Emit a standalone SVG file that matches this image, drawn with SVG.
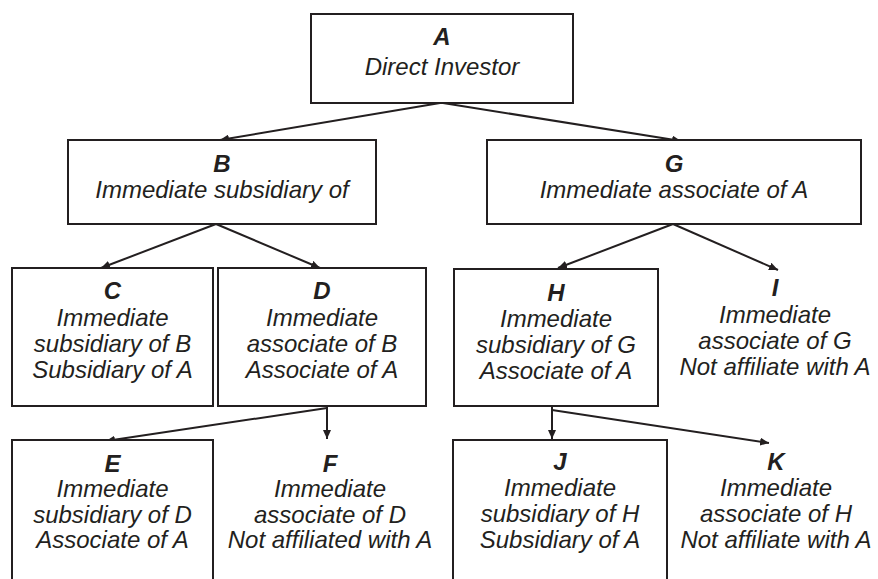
<svg xmlns="http://www.w3.org/2000/svg" width="878" height="579" viewBox="0 0 878 579">
<defs>
<marker id="arr" markerUnits="userSpaceOnUse" markerWidth="10" markerHeight="8" refX="9" refY="4" orient="auto">
<path d="M0,0 L9,4 L0,8 z" fill="#231f20"/>
</marker>
<style>
.box{fill:#fff;stroke:#231f20;stroke-width:2}
.t{font-family:"Liberation Sans",Arial,sans-serif;font-size:24px;font-style:italic;fill:#231f20;text-anchor:middle}
.h{font-weight:bold}
.c{fill:none;stroke:#231f20;stroke-width:2}
</style>
</defs>
<rect width="878" height="579" fill="#fff"/>
<g id="connectors">
<line class="c" x1="440" y1="103" x2="220" y2="140" marker-end="url(#arr)"/>
<line class="c" x1="443" y1="103" x2="681" y2="141" marker-end="url(#arr)"/>
<line class="c" x1="216" y1="224" x2="101" y2="268" marker-end="url(#arr)"/>
<line class="c" x1="216" y1="224" x2="320" y2="268" marker-end="url(#arr)"/>
<line class="c" x1="673" y1="224" x2="558" y2="268" marker-end="url(#arr)"/>
<line class="c" x1="673" y1="224" x2="778" y2="270" marker-end="url(#arr)"/>
<line class="c" x1="327" y1="406" x2="327" y2="439" marker-end="url(#arr)"/>
<line class="c" x1="327" y1="408" x2="106" y2="441" marker-end="url(#arr)"/>
<line class="c" x1="552" y1="406" x2="552" y2="439" marker-end="url(#arr)"/>
<line class="c" x1="552" y1="410" x2="769" y2="443" marker-end="url(#arr)"/>
</g>
<g id="A">
<rect class="box" x="311" y="14" width="262" height="89"/>
<text class="t h" x="442" y="45">A</text>
<text class="t" x="442" y="75">Direct Investor</text>
</g>
<g id="B">
<rect class="box" x="68" y="140" width="308" height="84"/>
<text class="t h" x="222" y="172">B</text>
<text class="t" x="222" y="198">Immediate subsidiary of</text>
</g>
<g id="G">
<rect class="box" x="487" y="140" width="374" height="84"/>
<text class="t h" x="674" y="172">G</text>
<text class="t" x="674" y="198">Immediate associate of A</text>
</g>
<g id="C">
<rect class="box" x="12" y="268" width="201" height="138"/>
<text class="t h" x="112.5" y="299">C</text>
<text class="t" x="112.5" y="325.5">Immediate</text>
<text class="t" x="112.5" y="351.5">subsidiary of B</text>
<text class="t" x="112.5" y="377.5">Subsidiary of A</text>
</g>
<g id="D">
<rect class="box" x="218" y="268" width="208" height="138"/>
<text class="t h" x="322" y="299">D</text>
<text class="t" x="322" y="325.5">Immediate</text>
<text class="t" x="322" y="351.5">associate of B</text>
<text class="t" x="322" y="377.5">Associate of A</text>
</g>
<g id="H">
<rect class="box" x="454" y="269" width="204" height="137"/>
<text class="t h" x="556" y="301">H</text>
<text class="t" x="556" y="327">Immediate</text>
<text class="t" x="556" y="353">subsidiary of G</text>
<text class="t" x="556" y="379">Associate of A</text>
</g>
<g id="I">
<text class="t h" x="775" y="296">I</text>
<text class="t" x="775" y="323">Immediate</text>
<text class="t" x="775" y="349">associate of G</text>
<text class="t" x="775" y="375">Not affiliate with A</text>
</g>
<g id="E">
<rect class="box" x="12" y="440" width="201" height="150"/>
<text class="t h" x="112.5" y="472">E</text>
<text class="t" x="112.5" y="497">Immediate</text>
<text class="t" x="112.5" y="523">subsidiary of D</text>
<text class="t" x="112.5" y="548">Associate of A</text>
</g>
<g id="F">
<text class="t h" x="330" y="472">F</text>
<text class="t" x="330" y="497">Immediate</text>
<text class="t" x="330" y="523">associate of D</text>
<text class="t" x="330" y="548">Not affiliated with A</text>
</g>
<g id="J">
<rect class="box" x="453" y="440" width="214" height="150"/>
<text class="t h" x="560" y="470">J</text>
<text class="t" x="560" y="496">Immediate</text>
<text class="t" x="560" y="522">subsidiary of H</text>
<text class="t" x="560" y="548">Subsidiary of A</text>
</g>
<g id="K">
<text class="t h" x="776" y="470">K</text>
<text class="t" x="776" y="496">Immediate</text>
<text class="t" x="776" y="522">associate of H</text>
<text class="t" x="776" y="548">Not affiliate with A</text>
</g>
</svg>
